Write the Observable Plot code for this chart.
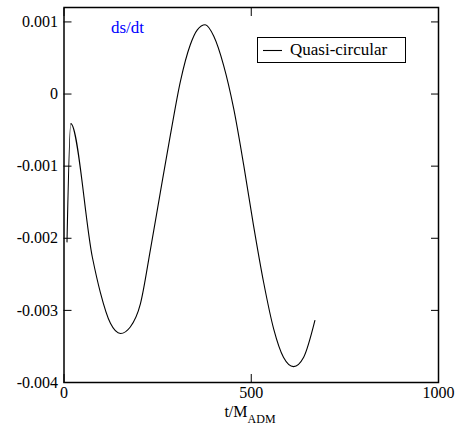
<!DOCTYPE html>
<html>
<head>
<meta charset="utf-8">
<script src="https://cdn.jsdelivr.net/npm/d3@7"></script>
<script src="https://cdn.jsdelivr.net/npm/@observablehq/plot@0.6"></script>
<style>
  body { margin: 0; background: #fff; }
  #wrap { position: relative; width: 460px; height: 436px; font-family: "Liberation Serif", "DejaVu Serif", serif; }
  #legend { position: absolute; left: 257px; top: 37px; width: 149px; height: 26px; border: 1px solid #000; background: #fff; box-sizing: border-box; font-size: 17px; line-height: 24px; white-space: nowrap; }
  #legend svg { position: absolute; left: 4px; top: 11px; }
  #legend span { position: absolute; left: 32px; top: 0px; }
</style>
</head>
<body>
<div id="wrap"></div>
<script>
const tValues = [8, 18, 76, 97, 124, 151, 177, 204, 231, 257, 284, 311, 337, 356, 377, 400, 426, 453, 480, 506, 533, 560, 586, 613, 640, 670];
const dsdt = [-0.00205, -0.00041, -0.00227, -0.00275, -0.00318, -0.00332, -0.00323, -0.00291, -0.00215, -0.00137, -0.00057, 0.00018, 0.00068, 0.00089, 0.00096, 0.00080, 0.00040, -0.00020, -0.00099, -0.00182, -0.00261, -0.00326, -0.00365, -0.00378, -0.00365, -0.00314];
const xTicks = [0, 500, 1000];
const yTicks = [-0.004, -0.003, -0.002, -0.001, 0, 0.001];
const seriesName = "Quasi-circular";
const titleText = "ds/dt";

const data = tValues.map((t, i) => ({t, v: dsdt[i]}));
const fmtY = d => d === 0 ? "0" : (d < 0 ? "-" : "") + Math.abs(d).toFixed(3);
const FONT = "'Liberation Serif', 'DejaVu Serif', serif";

const chart = Plot.plot({
  width: 460,
  height: 436,
  marginLeft: 63.5,
  marginRight: 22,
  marginTop: 7,
  marginBottom: 54,
  style: {fontFamily: FONT, fontSize: "16px", color: "#000", background: "#fff"},
  x: {domain: [0, 1000]},
  y: {domain: [-0.004, 0.0012]},
  marks: [
    Plot.line(data, {x: "t", y: "v", stroke: "#000", strokeWidth: 1.1, curve: "monotone-x"}),
    Plot.axisX({anchor: "bottom", ticks: xTicks, tickSize: -8, tickPadding: 12, tickFormat: d => String(d), fontSize: 16, label: null}),
    Plot.axisX({anchor: "top", ticks: xTicks, tickSize: -8, tickFormat: () => "", label: null}),
    Plot.axisY({anchor: "left", ticks: yTicks, tickSize: -8, tickPadding: 14, tickFormat: fmtY, fontSize: 16, label: null}),
    Plot.axisY({anchor: "right", ticks: yTicks, tickSize: -8, tickFormat: () => "", label: null}),
    Plot.frame({stroke: "#000", strokeWidth: 1.5}),
    Plot.text([titleText], {frameAnchor: "top-left", dx: 47, dy: 13, text: d => d, fill: "#0000ff", fontSize: 17, textAnchor: "start"})
  ]
});
document.getElementById("wrap").appendChild(chart);

// x-axis label with subscript
const svg = d3.select(chart);
const lbl = svg.append("text")
  .attr("x", 250).attr("y", 417)
  .attr("text-anchor", "middle")
  .attr("font-family", FONT)
  .attr("font-size", 16)
  .attr("fill", "#000");
lbl.append("tspan").text("t/M");
lbl.append("tspan").attr("dy", 6).attr("font-size", 12).text("ADM");

// legend
const leg = document.createElement("div");
leg.id = "legend";
leg.innerHTML = '<svg width="24" height="4"><line x1="1" y1="1.5" x2="20" y2="1.5" stroke="#000" stroke-width="1.1"/></svg><span></span>';
leg.querySelector("span").textContent = seriesName;
document.getElementById("wrap").appendChild(leg);
</script>
</body>
</html>
